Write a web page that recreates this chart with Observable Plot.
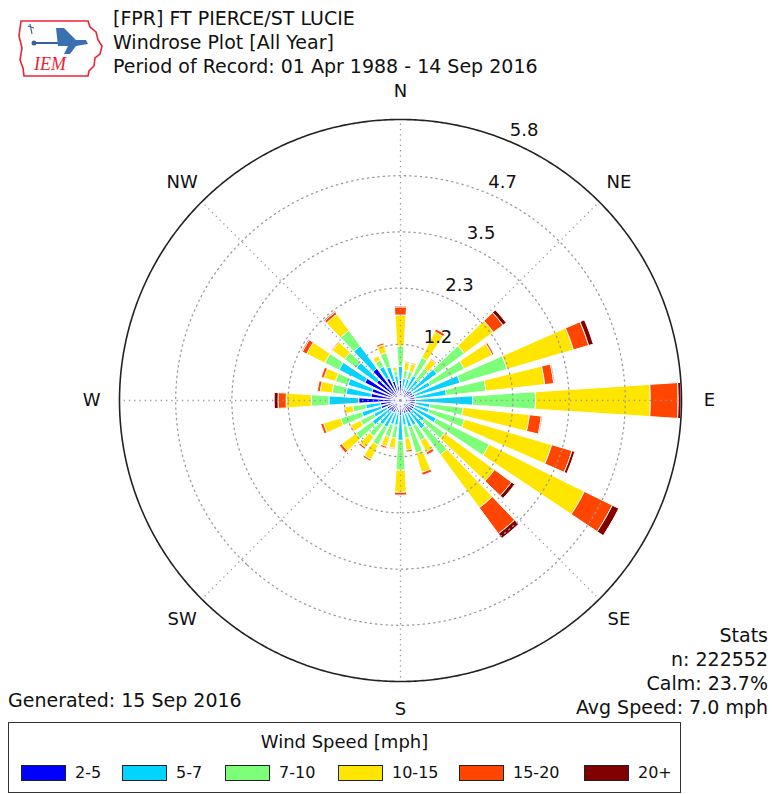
<!DOCTYPE html>
<html><head><meta charset="utf-8">
<script src="https://cdn.jsdelivr.net/npm/d3@7"></script>
<script src="https://cdn.jsdelivr.net/npm/@observablehq/plot@0.6"></script>
<style>
html,body{margin:0;padding:0;background:#fff;overflow:hidden;}
#wrap{position:relative;width:772px;height:794px;font-family:"DejaVu Sans",sans-serif;color:#111;}
#chart{position:absolute;left:0;top:0;}
.t{position:absolute;white-space:nowrap;font-size:19px;line-height:22px;}
#legend{position:absolute;left:8px;top:722px;width:673px;height:71px;border:1px solid #333;box-sizing:border-box;}
#legend .lt{position:absolute;left:0;right:0;top:8px;text-align:center;font-size:18px;}
.sw{position:absolute;top:42px;width:45px;height:16px;border:1px solid #222;box-sizing:border-box;}
.sl{position:absolute;top:40px;font-size:16px;}
</style></head><body>
<div id="wrap">
  <div id="chart"></div>
  <svg style="position:absolute;left:18px;top:18px" width="86" height="62" viewBox="0 0 86 62">
    <path d="M3,3 L70,3 L72,9 L78,14 L80,22 L84,28 L82,36 L77,40 L76,48 L71,53 L70,58 L6,58 L5,50 L2,42 L4,30 L1,18 Z" fill="none" stroke="#e23" stroke-width="1.6"/>
    <line x1="14" y1="25" x2="64" y2="25" stroke="#3a5fa0" stroke-width="2"/>
    <circle cx="16" cy="25" r="2.5" fill="#3a5fa0"/>
    <path d="M38,10 L46,10 L58,22 L68,22 L70,26 L58,28 L52,36 L46,36 L50,28 L40,28 Z" fill="#3a6fb0"/>
    <path d="M12,6 L14,16 M10,8 L16,10" stroke="#3a5fa0" stroke-width="1.2"/>
    <text x="16" y="52" fill="#e23" font-family="Liberation Serif, serif" font-style="italic" font-size="18">IEM</text>
  </svg>
  <div class="t" style="left:113px;top:7px">[FPR] FT PIERCE/ST LUCIE</div>
  <div class="t" style="left:113px;top:31px">Windrose Plot [All Year]</div>
  <div class="t" style="left:113px;top:55px">Period of Record: 01 Apr 1988 - 14 Sep 2016</div>
  <div class="t" style="right:4px;top:623px;text-align:right;line-height:24px">Stats<br>n: 222552<br>Calm: 23.7%<br>Avg Speed: 7.0 mph</div>
  <div class="t" style="left:8px;top:689px">Generated: 15 Sep 2016</div>
  <div id="legend"><div class="lt">Wind Speed [mph]</div></div>
</div>
<script>
// ---- data ----
const directions = d3.range(0, 360, 10);
const speedBins = ["2-5", "5-7", "7-10", "10-15", "15-20", "20+"];
const binColors = ["#0000ff", "#00d4ff", "#7dff7a", "#ffe600", "#ff4500", "#800000"];
// percent frequency per direction (0,10,...,350 deg) for each speed bin
const freq2_5   = [0.42,0.25,0.25,0.25,0.25,0.29,0.29,0.31,0.31,0.31,0.31,0.31,0.31,0.31,0.31,0.29,0.29,0.25,0.31,0.25,0.25,0.29,0.29,0.31,0.31,0.42,0.42,0.87,0.62,0.62,0.83,0.62,0.83,0.52,0.42,0.31];
const freq5_7   = [0.29,0.21,0.21,0.33,0.27,0.65,0.40,0.98,0.65,1.19,0.31,0.31,0.52,0.31,0.42,0.29,0.29,0.27,0.52,0.27,0.27,0.33,0.33,0.42,0.31,0.42,0.31,0.62,0.52,0.52,0.60,0.52,0.58,0.27,0.31,0.21];
const freq7_10  = [0.42,0.17,0.17,0.42,0.31,0.71,0.79,1.02,0.83,1.31,0.69,0.77,1.23,0.52,0.67,0.35,0.56,0.27,0.62,0.27,0.27,0.42,0.31,0.42,0.31,0.46,0.27,0.37,0.29,0.27,0.33,0.31,0.40,0.15,0.31,0.10];
const freq10_15 = [0.65,0.17,0.17,0.60,0.23,0.75,0.65,1.44,1.23,2.39,1.39,1.89,2.21,1.29,1.37,0.27,0.42,0.25,0.46,0.21,0.21,0.33,0.29,0.37,0.23,0.37,0.17,0.52,0.25,0.25,0.42,0.31,0.42,0.10,0.17,0.08];
const freq15_20 = [0.17,0.02,0.02,0.06,0.02,0.25,0.04,0.33,0.19,0.58,0.25,0.44,0.65,0.44,0.67,0.06,0.06,0.04,0.06,0.02,0.04,0.04,0.04,0.06,0.02,0.06,0.02,0.17,0.06,0.06,0.10,0.02,0.06,0.00,0.04,0.00];
const freq20p   = [0.02,0.00,0.00,0.00,0.00,0.08,0.00,0.10,0.02,0.06,0.02,0.06,0.15,0.08,0.12,0.00,0.00,0.00,0.00,0.00,0.00,0.00,0.00,0.00,0.00,0.00,0.00,0.08,0.00,0.00,0.02,0.00,0.02,0.00,0.00,0.00];
const ringTicks = [1.17, 2.34, 3.51, 4.68];
const ringLabels = ["1.2", "2.3", "3.5", "4.7", "5.8"];
const rMax = 5.85;
const compassAngles = [0, 45, 90, 135, 180, 225, 270, 315];
const compassLabels = ["N", "NE", "E", "SE", "S", "SW", "W", "NW"];

// ---- build stacked wedges ----
const series = [freq2_5, freq5_7, freq7_10, freq10_15, freq15_20, freq20p];
const rows = [];
directions.forEach((dir, i) => {
  let base = 0;
  series.forEach((s, j) => {
    const v = s[i];
    if (v > 0) rows.push({dir, bin: speedBins[j], r0: base, r1: base + v});
    base += v;
  });
});

const K = 10;                 // degrees of arc per percent
const lon = b => 180 - b;     // bearing (clockwise from N) -> longitude
const lat = r => Math.min(90 - r * K, 89.9999);
const HALF = 3.7;             // half opening of a bar, degrees

function wedge(d) {
  const L1 = lon(d.dir) - HALF, L2 = lon(d.dir) + HALF, n = 10;
  const inner = d3.range(n + 1).map(k => [L1 + (L2 - L1) * k / n, lat(d.r0)]);
  const outer = d3.range(n + 1).map(k => [L1 + (L2 - L1) * k / n, lat(d.r1)]).reverse();
  const ring = [[L1, lat(d.r1)], ...inner, ...outer];
  return {type: "Polygon", coordinates: [ring]};
}
const circle = r => d3.geoCircle().center([0, 90]).radius(r * K).precision(0.5)();

const chart = Plot.plot({
  width: 772,
  height: 794,
  marginLeft: 119, marginRight: 91, marginTop: 119, marginBottom: 113,
  projection: {type: "azimuthal-equidistant", rotate: [0, -90], domain: circle(rMax), clip: false},
  color: {domain: speedBins, range: binColors},
  style: {fontFamily: "DejaVu Sans, sans-serif", fontSize: "17px", color: "#111", background: "transparent"},
  marks: [
    Plot.geo(rows, {geometry: wedge, fill: "bin", stroke: "white", strokeWidth: 1}),
    Plot.geo(ringTicks, {geometry: circle, fill: "none", stroke: "#9a9a9a", strokeWidth: 1.3, strokeDasharray: "1.3,4"}),
    Plot.link(compassAngles, {x1: lon, y1: 90, x2: lon, y2: 90 - rMax * K, stroke: "#9a9a9a", strokeWidth: 1.3, strokeDasharray: "1.3,4"}),
    Plot.geo([rMax], {geometry: circle, fill: "none", stroke: "#222", strokeWidth: 1.6}),
    Plot.text([...ringTicks, rMax], {x: lon(22.5), y: r => 90 - r * K, text: (r, i) => ringLabels[i], dx: 16, dy: -11, fontSize: 18, fill: "#111"}),
    Plot.text(compassAngles, {x: lon, y: 90 - 6.43 * K, text: (a, i) => compassLabels[i], fontSize: 18, fill: "#111"})
  ]
});
document.getElementById("chart").appendChild(chart);

// legend
const leg = document.getElementById("legend");
const swX = [12, 113, 216, 329, 450, 575];
speedBins.forEach((b, i) => {
  const sw = document.createElement("div");
  sw.className = "sw"; sw.style.left = swX[i] + "px"; sw.style.background = binColors[i];
  leg.appendChild(sw);
  const l = document.createElement("div");
  l.className = "sl"; l.style.left = (swX[i] + 54) + "px"; l.textContent = b;
  leg.appendChild(l);
});
</script>
</body></html>
